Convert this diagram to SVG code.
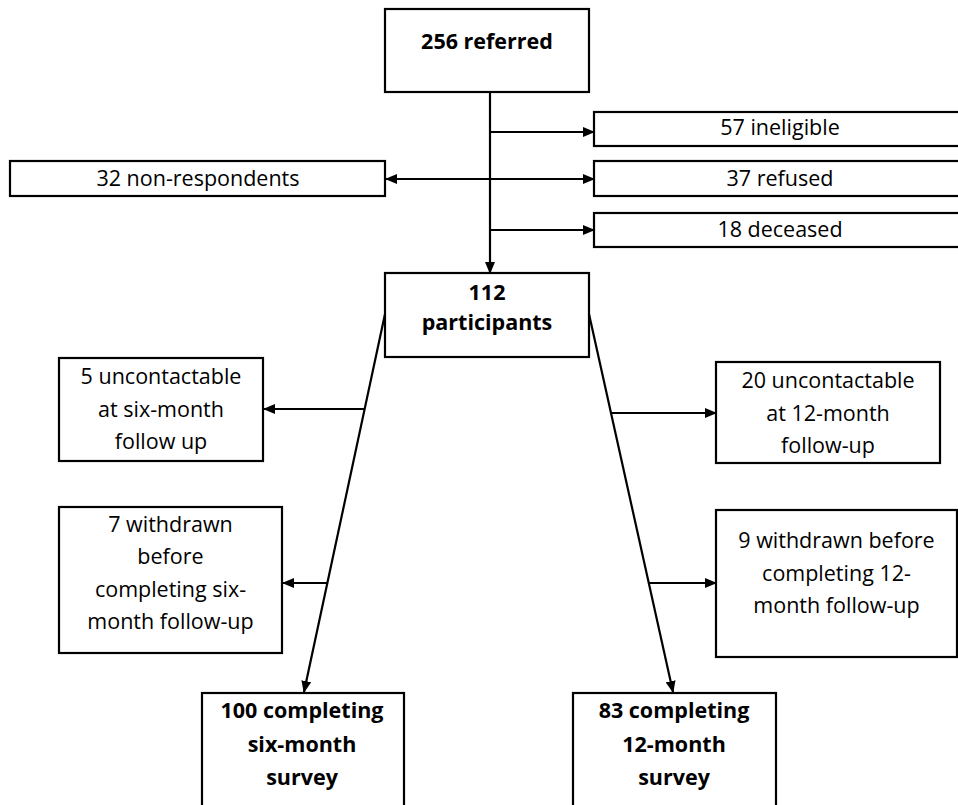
<svg xmlns="http://www.w3.org/2000/svg" width="958" height="805" viewBox="0 0 958 805">
<defs>
<style>
.box{fill:#fff;stroke:#000;stroke-width:2.2}
.t{font-family:"Open Sans","Liberation Sans",sans-serif;font-size:21.5px;fill:#000;text-anchor:middle}
.b{font-weight:bold}
.c{fill:none;stroke:#000;stroke-width:2.2}
</style>
<marker id="ah" markerUnits="userSpaceOnUse" markerWidth="12" markerHeight="10" refX="11" refY="5" orient="auto-start-reverse" viewBox="0 0 12 10">
<path d="M0,0 L12,5 L0,10 z" fill="#000"/>
</marker>
</defs>
<rect width="958" height="805" fill="#fff"/>
<g id="connectors">
<path class="c" d="M490,92 V273" marker-end="url(#ah)"/>
<path class="c" d="M490,132 H594" marker-end="url(#ah)"/>
<path class="c" d="M386,179 H594" marker-start="url(#ah)" marker-end="url(#ah)"/>
<path class="c" d="M490,230 H594" marker-end="url(#ah)"/>
<path class="c" d="M385,314 L304,692" marker-end="url(#ah)"/>
<path class="c" d="M364,409 H264" marker-end="url(#ah)"/>
<path class="c" d="M327,583 H283" marker-end="url(#ah)"/>
<path class="c" d="M589,314 L673,692" marker-end="url(#ah)"/>
<path class="c" d="M611,413 H716" marker-end="url(#ah)"/>
<path class="c" d="M649,583 H716" marker-end="url(#ah)"/>
</g>
<g id="referred"><rect class="box" x="385" y="9" width="204" height="83"/><text class="t b" x="487" y="49">256 referred</text></g>
<g id="ineligible"><rect class="box" x="594" y="112" width="372" height="34"/><text class="t" x="780" y="135">57 ineligible</text></g>
<g id="refused"><rect class="box" x="594" y="161" width="372" height="35"/><text class="t" x="780" y="186">37 refused</text></g>
<g id="deceased"><rect class="box" x="594" y="213" width="372" height="34"/><text class="t" x="780" y="237">18 deceased</text></g>
<g id="nonrespondents"><rect class="box" x="10" y="161" width="375" height="35"/><text class="t" x="198" y="186">32 non-respondents</text></g>
<g id="participants"><rect class="box" x="385" y="273" width="204" height="84"/><text class="t b" x="487" y="300">112</text><text class="t b" x="487" y="330">participants</text></g>
<g id="uncontactable6"><rect class="box" x="59" y="358" width="204" height="103"/><text class="t" x="161" y="384">5 uncontactable</text><text class="t" x="161" y="416.5">at six-month</text><text class="t" x="161" y="449">follow up</text></g>
<g id="withdrawn6"><rect class="box" x="59" y="507" width="223" height="146"/><text class="t" x="170.5" y="532">7 withdrawn</text><text class="t" x="170.5" y="564">before</text><text class="t" x="170.5" y="596.5">completing six-</text><text class="t" x="170.5" y="629">month follow-up</text></g>
<g id="uncontactable12"><rect class="box" x="716" y="362" width="224" height="101"/><text class="t" x="828" y="388">20 uncontactable</text><text class="t" x="828" y="420.5">at 12-month</text><text class="t" x="828" y="453">follow-up</text></g>
<g id="withdrawn12"><rect class="box" x="716" y="510" width="241" height="147"/><text class="t" x="836.5" y="548">9 withdrawn before</text><text class="t" x="836.5" y="580.5">completing 12-</text><text class="t" x="836.5" y="613">month follow-up</text></g>
<g id="completing6"><rect class="box" x="202" y="693" width="202" height="130"/><text class="t b" x="302" y="718">100 completing</text><text class="t b" x="302" y="752">six-month</text><text class="t b" x="302" y="785">survey</text></g>
<g id="completing12"><rect class="box" x="573" y="693" width="203" height="130"/><text class="t b" x="674" y="718">83 completing</text><text class="t b" x="674" y="752">12-month</text><text class="t b" x="674" y="785">survey</text></g>
</svg>
